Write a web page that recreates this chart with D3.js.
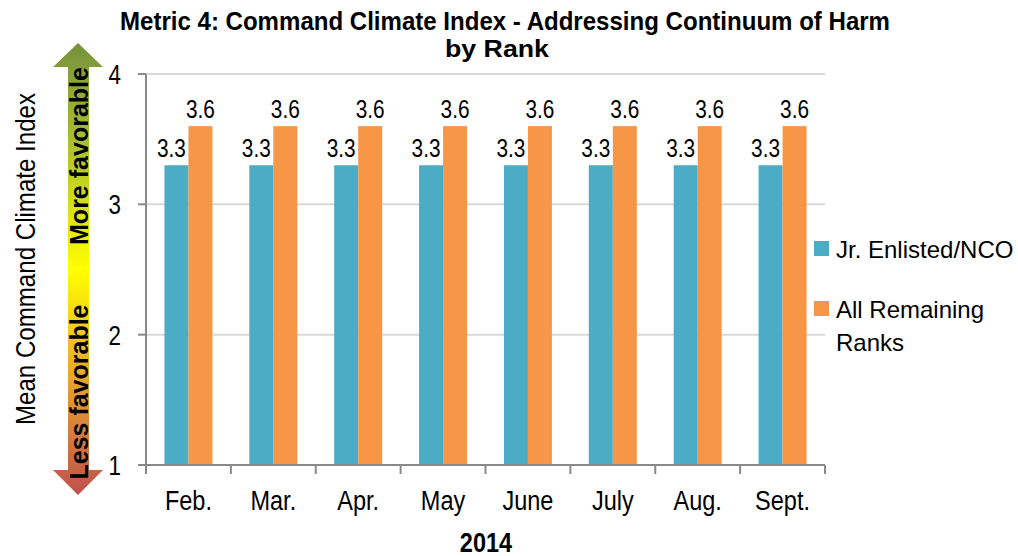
<!DOCTYPE html>
<html>
<head>
<meta charset="utf-8">
<script src="https://cdnjs.cloudflare.com/ajax/libs/d3/7.8.5/d3.min.js"></script>
<style>
  body { margin: 0; background: #fff; }
  text { font-family: "Liberation Sans", Arial, sans-serif; fill: #000; }
</style>
</head>
<body>
<svg id="canvas"></svg>
<script>
var months = ["Feb.", "Mar.", "Apr.", "May", "June", "July", "Aug.", "Sept."];
var seriesNames = ["Jr. Enlisted/NCO", "All Remaining Ranks"];
var jrEnlisted = [3.3, 3.3, 3.3, 3.3, 3.3, 3.3, 3.3, 3.3];
var remaining = [3.6, 3.6, 3.6, 3.6, 3.6, 3.6, 3.6, 3.6];
var yTicks = [1, 2, 3, 4];
var colors = ["#4BACC6", "#F79646"];

var w = 1018, h = 556;
var narrow = 0.84;   // fake a condensed face
var svg = d3.select("#canvas").attr("width", w).attr("height", h);

// ########## Scales ##########
var x0 = d3.scaleBand().domain(months).range([146, 825]);
var y = d3.scaleLinear().domain([1, 4]).range([465, 74]);
var barW = 24;

// ########## Gridlines ##########
svg.append("g").selectAll("line").data(yTicks.slice(1)).enter()
  .append("line")
  .attr("x1", 146).attr("x2", 825)
  .attr("y1", function (d) { return y(d); })
  .attr("y2", function (d) { return y(d); })
  .attr("stroke", "#d9d9d9").attr("stroke-width", 2);

// ########## Bars ##########
var data = months.map(function (m, i) { return { m: m, v: [jrEnlisted[i], remaining[i]] }; });
var groups = svg.append("g").selectAll("g").data(data).enter()
  .append("g")
  .attr("transform", function (d) { return "translate(" + (x0(d.m) + x0.bandwidth() / 2) + ",0)"; });

groups.selectAll("rect").data(function (d) { return d.v; }).enter()
  .append("rect")
  .attr("x", function (d, i) { return i === 0 ? -barW : 0; })
  .attr("width", barW)
  .attr("y", function (d) { return y(d); })
  .attr("height", function (d) { return y(1) - y(d); })
  .attr("fill", function (d, i) { return colors[i]; });

groups.selectAll("text").data(function (d) { return d.v; }).enter()
  .append("text")
  .attr("transform", function (d, i) {
    var tx = i === 0 ? -barW / 2 - 5 : barW / 2;
    return "translate(" + tx + "," + (y(d) - 8) + ") scale(0.8,1)";
  })
  .attr("text-anchor", "middle")
  .attr("font-size", 26)
  .text(function (d) { return d3.format(".1f")(d); });

// ########## Axes ##########
var axisCol = "#898989";
svg.append("line").attr("x1", 138).attr("x2", 825).attr("y1", y(1)).attr("y2", y(1))
  .attr("stroke", axisCol).attr("stroke-width", 2);
svg.append("g").selectAll("line").data(d3.range(months.length + 1)).enter()
  .append("line")
  .attr("x1", function (i) { return 146 + i * x0.bandwidth(); })
  .attr("x2", function (i) { return 146 + i * x0.bandwidth(); })
  .attr("y1", y(1)).attr("y2", y(1) + 9)
  .attr("stroke", axisCol).attr("stroke-width", 2);
svg.append("g").selectAll("text").data(months).enter()
  .append("text")
  .attr("transform", function (d) {
    return "translate(" + (x0(d) + x0.bandwidth() / 2) + ",510) scale(" + narrow + ",1)";
  })
  .attr("text-anchor", "middle")
  .attr("font-size", 28)
  .text(function (d) { return d; });

svg.append("line").attr("x1", 146).attr("x2", 146).attr("y1", y(4)).attr("y2", y(1))
  .attr("stroke", axisCol).attr("stroke-width", 2);
svg.append("g").selectAll("line").data(yTicks).enter()
  .append("line")
  .attr("x1", 138).attr("x2", 146)
  .attr("y1", function (d) { return y(d); })
  .attr("y2", function (d) { return y(d); })
  .attr("stroke", axisCol).attr("stroke-width", 2);
svg.append("g").selectAll("text").data(yTicks).enter()
  .append("text")
  .attr("transform", function (d) { return "translate(121," + (y(d) + 10) + ") scale(0.8,1)"; })
  .attr("text-anchor", "end")
  .attr("font-size", 28)
  .text(function (d) { return d; });

// ########## Gradient arrow ##########
var defs = svg.append("defs");
var grad = defs.append("linearGradient").attr("id", "fav").attr("x1", 0).attr("x2", 0).attr("y1", 0).attr("y2", 1);
grad.append("stop").attr("offset", "0%").attr("stop-color", "#76923C");
grad.append("stop").attr("offset", "22%").attr("stop-color", "#a8c030");
grad.append("stop").attr("offset", "50%").attr("stop-color", "#ffff00");
grad.append("stop").attr("offset", "75%").attr("stop-color", "#e6a22e");
grad.append("stop").attr("offset", "100%").attr("stop-color", "#C0504D");
var ax0 = 53, ax1 = 103, sx0 = 68, sx1 = 89, mid = (ax0 + ax1) / 2;
svg.append("path")
  .attr("d", "M" + mid + ",43 L" + ax1 + ",67 L" + sx1 + ",67 L" + sx1 + ",470 L" + ax1 + ",470 L" +
    mid + ",495 L" + ax0 + ",470 L" + sx0 + ",470 L" + sx0 + ",67 L" + ax0 + ",67 Z")
  .attr("fill", "url(#fav)");
svg.append("text").attr("transform", "translate(88,156) rotate(-90)")
  .attr("text-anchor", "middle").attr("font-size", 25).attr("font-weight", "bold")
  .attr("textLength", 178).attr("lengthAdjust", "spacingAndGlyphs")
  .text("More favorable");
svg.append("text").attr("transform", "translate(88,392) rotate(-90)")
  .attr("text-anchor", "middle").attr("font-size", 25).attr("font-weight", "bold")
  .attr("textLength", 175).attr("lengthAdjust", "spacingAndGlyphs")
  .text("Less favorable");

// ########## Titles ##########
svg.append("text").attr("transform", "translate(35,259) rotate(-90)")
  .attr("text-anchor", "middle").attr("font-size", 28)
  .attr("textLength", 332).attr("lengthAdjust", "spacingAndGlyphs")
  .text("Mean Command Climate Index");
svg.append("text").attr("x", 505).attr("y", 30).attr("text-anchor", "middle")
  .attr("font-size", 25).attr("font-weight", "bold")
  .attr("textLength", 770).attr("lengthAdjust", "spacingAndGlyphs")
  .text("Metric 4: Command Climate Index - Addressing Continuum of Harm");
svg.append("text").attr("x", 497).attr("y", 57).attr("text-anchor", "middle")
  .attr("font-size", 24).attr("font-weight", "bold")
  .attr("textLength", 104).attr("lengthAdjust", "spacingAndGlyphs")
  .text("by Rank");
svg.append("text").attr("transform", "translate(486,552) scale(" + narrow + ",1)")
  .attr("text-anchor", "middle").attr("font-size", 28).attr("font-weight", "bold").text("2014");

// ########## Legend ##########
var legend = svg.append("g");
legend.append("rect").attr("x", 814).attr("y", 241).attr("width", 15).attr("height", 15).attr("fill", colors[0]);
legend.append("text").attr("x", 836).attr("y", 258).attr("font-size", 24).text(seriesNames[0]);
legend.append("rect").attr("x", 814).attr("y", 301).attr("width", 15).attr("height", 15).attr("fill", colors[1]);
legend.append("text").attr("x", 836).attr("y", 318).attr("font-size", 24).text("All Remaining");
legend.append("text").attr("x", 836).attr("y", 351).attr("font-size", 24).text("Ranks");
</script>
</body>
</html>
